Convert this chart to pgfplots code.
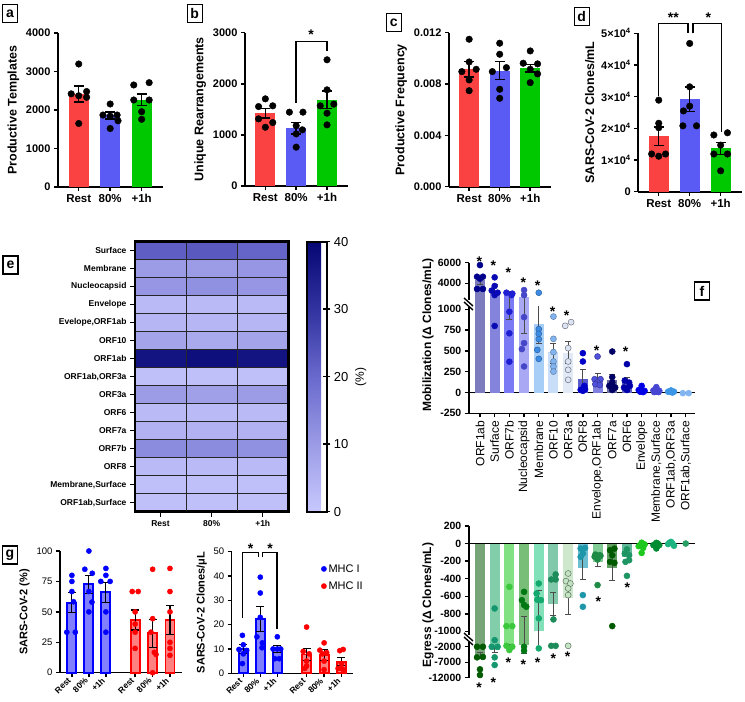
\documentclass[border=0pt]{standalone}
\usepackage{fontspec}
\setmainfont{Liberation Sans}
\usepackage{pgfplots}
\pgfplotsset{compat=1.18}
\newcommand{\fs}[1]{\fontsize{#1}{#1}\selectfont}

\definecolor{cred}{RGB}{250,66,66}
\definecolor{cblue}{RGB}{90,90,245}
\definecolor{cgreen}{RGB}{0,200,0}
% f top bars / dots
\definecolor{ta0}{RGB}{123,123,189}\definecolor{td0}{RGB}{0,0,140}
\definecolor{ta1}{RGB}{132,132,221}\definecolor{td1}{RGB}{10,10,180}
\definecolor{ta2}{RGB}{122,122,245}\definecolor{td2}{RGB}{30,30,210}
\definecolor{ta3}{RGB}{168,168,245}\definecolor{td3}{RGB}{70,70,200}
\definecolor{ta4}{RGB}{166,206,247}\definecolor{td4}{RGB}{60,140,230}
\definecolor{ta5}{RGB}{200,221,248}\definecolor{td5}{RGB}{130,180,240}
\definecolor{ta6}{RGB}{226,234,248}\definecolor{td6}{RGB}{220,228,246}
\definecolor{ta7}{RGB}{90,90,208}\definecolor{td7}{RGB}{0,0,200}
\definecolor{ta8}{RGB}{128,128,224}\definecolor{td8}{RGB}{80,80,220}
\definecolor{ta9}{RGB}{110,110,160}\definecolor{td9}{RGB}{0,0,100}
\definecolor{ta10}{RGB}{96,96,192}\definecolor{td10}{RGB}{0,0,170}
\definecolor{ta11}{RGB}{60,60,240}\definecolor{td11}{RGB}{0,0,230}
\definecolor{ta12}{RGB}{100,100,220}\definecolor{td12}{RGB}{70,70,210}
\definecolor{ta13}{RGB}{100,170,230}\definecolor{td13}{RGB}{60,150,230}
\definecolor{ta14}{RGB}{150,190,240}\definecolor{td14}{RGB}{130,180,240}
% f bottom bars / dots
\definecolor{ba0}{RGB}{120,165,120}\definecolor{bd0}{RGB}{0,90,0}
\definecolor{ba1}{RGB}{130,205,170}\definecolor{bd1}{RGB}{20,150,110}
\definecolor{ba2}{RGB}{130,225,130}\definecolor{bd2}{RGB}{60,200,60}
\definecolor{ba3}{RGB}{120,190,120}\definecolor{bd3}{RGB}{0,120,20}
\definecolor{ba4}{RGB}{130,225,185}\definecolor{bd4}{RGB}{20,170,110}
\definecolor{ba5}{RGB}{130,200,170}\definecolor{bd5}{RGB}{30,140,90}
\definecolor{ba6}{RGB}{205,232,205}\definecolor{bd6}{RGB}{195,228,195}
\definecolor{ba7}{RGB}{110,190,210}\definecolor{bd7}{RGB}{30,150,170}
\definecolor{ba8}{RGB}{130,205,150}\definecolor{bd8}{RGB}{30,140,70}
\definecolor{ba9}{RGB}{100,160,100}\definecolor{bd9}{RGB}{0,90,0}
\definecolor{ba10}{RGB}{100,185,155}\definecolor{bd10}{RGB}{30,150,100}
\definecolor{ba11}{RGB}{100,210,100}\definecolor{bd11}{RGB}{30,200,30}
\definecolor{ba12}{RGB}{60,170,80}\definecolor{bd12}{RGB}{0,140,50}
\definecolor{ba13}{RGB}{90,200,150}\definecolor{bd13}{RGB}{30,180,130}
\definecolor{ba14}{RGB}{100,180,140}\definecolor{bd14}{RGB}{40,160,100}
% g
\definecolor{gbf}{RGB}{128,128,255}\definecolor{gbd}{RGB}{0,0,255}
\definecolor{grf}{RGB}{255,128,128}\definecolor{grd}{RGB}{255,0,0}

\pgfplotsset{
  /pgf/number format/assume math mode=true,
  /pgf/number format/1000 sep={},
  scaled y ticks=false,
  colormap={heat}{rgb255=(200,200,255) rgb255=(155,155,230) rgb255=(105,105,205) rgb255=(50,50,160) rgb255=(5,5,115)},
  abcd/.style={scale only axis, anchor=south west, clip=false,
    axis x line*=bottom, axis y line*=left,
    axis line style={line width=1.8pt},
    tick style={black, line width=1.5pt}, major tick length=4pt, tick align=outside,
    xmin=-0.66, xmax=2.68, ymin=0, xtick={0,1,2}, xticklabels={Rest,80\%,+1h},
    xticklabel style={font=\bfseries\fs{11.5}},
    yticklabel style={font=\bfseries\fs{11}},
    ylabel style={font=\bfseries\fs{12.5}},
    width=104pt},
  fst/.style={scale only axis, anchor=south west,
    axis y line*=left, axis line style={line width=1.6pt},
    tick style={black, line width=1.4pt}, major tick length=4pt, tick align=outside,
    xmin=-0.76, xmax=14.65, width=226.5pt,
    yticklabel style={font=\bfseries\fs{10.5}}},
  zline/.style={extra y ticks={0}, extra y tick labels={},
    extra y tick style={ymajorgrids=true, major grid style={black, line width=1.5pt}, major tick length=0pt}},
  gst/.style={scale only axis, anchor=south west, clip=false,
    axis x line*=bottom, axis y line*=left, axis line style={line width=1.5pt},
    tick style={black, line width=1.3pt}, major tick length=4pt, tick align=outside,
    xtick={0,1,2,3.72,4.75,5.77}, xticklabels={Rest,80\%,+1h,Rest,80\%,+1h},
    xticklabel style={rotate=45, anchor=east, font=\bfseries\fs{8.5}},
    yticklabel style={font=\fs{9.5}}, ylabel style={font=\bfseries\fs{11}},
    width=121.7pt, height=121.7pt, ymin=0},
}

% bar with error (a-d)
\newcommand{\bb}[4]{\addplot[ybar, bar width=20pt, bar shift=0pt, fill=#4, draw=none,
  error bars/.cd, y dir=both, y explicit, error bar style={line width=1.4pt, black},
  error mark options={rotate=90, mark size=5pt, line width=1.4pt, black}]
  coordinates {(#1,#2) +- (0,#3)};}
% dots: #1 category position, #2 points with x given as jitter about it
\newcommand{\bd}[2]{\addplot[only marks, mark=*, mark size=3.3pt, black, x filter/.expression={x+#1}] coordinates {#2};}
% f bars and dots
\newcommand{\fb}[5]{\addplot[ybar, bar width=10pt, bar shift=0pt, fill=#5, draw=none,
  error bars/.cd, y dir=both, y explicit, error bar style={line width=0.8pt, black!70},
  error mark options={rotate=90, mark size=3pt, line width=0.8pt, black!70}]
  coordinates {(#1,#2) += (0,#3) -= (0,#4)};}
\newcommand{\fd}[4]{\addplot[only marks, mark=*, mark size=3pt, mark options={fill=#1, draw=#2, line width=0.5pt}, x filter/.expression={x+#3}] coordinates {#4};}
% g bars and dots
\newcommand{\gb}[5]{\addplot[ybar, bar width=9pt, bar shift=0pt, fill=#4, draw=#5, line width=1.8pt,
  error bars/.cd, y dir=both, y explicit, error bar style={line width=1.2pt, black},
  error mark options={rotate=90, mark size=4pt, line width=1.2pt, black}]
  coordinates {(#1,#2) +- (0,#3)};}
\newcommand{\gd}[3]{\addplot[only marks, mark=*, mark size=2.6pt, #1, x filter/.expression={x+#2}] coordinates {#3};}
\newcommand{\plabel}[3]{\node[draw, line width=1.3pt, inner sep=0pt, minimum width=15pt, minimum height=18pt, font=\bfseries\fs{14}] at (#1pt,-#2pt) {#3};}
\newcommand{\st}[2]{\node[font=\bfseries\fs{14}, inner sep=0pt] at (#1pt,-#2pt-3pt) {*};}

% ---- f top: bars that reach the upper segment
\newcommand{\ftopbarshigh}{%
\fb{0}{4320}{400}{400}{ta0}
\fb{1}{3350}{500}{500}{ta1}
\fb{2}{2930}{300}{2050}{ta2}
\fb{3}{2640}{300}{1926}{ta3}
}
\newcommand{\ftopbarsrest}{%
\fb{4}{826}{1814}{232}{ta4}
\fb{5}{493}{100}{148}{ta5}
\fb{6}{481}{132}{130}{ta6}
\fb{7}{161}{112}{100}{ta7}
\fb{8}{173}{60}{60}{ta8}
\fb{9}{153}{65}{60}{ta9}
\fb{10}{132}{50}{50}{ta10}
\fb{11}{30}{12}{12}{ta11}
\fb{12}{25}{10}{10}{ta12}
\fb{13}{15}{8}{8}{ta13}
\fb{14}{-8}{3}{3}{ta14}
}
\newcommand{\ftopdots}{%
\fd{td0}{td0}{0}{(0,5770) (-0.2,4640) (0.2,4640) (0,4450) (-0.2,3450) (0.2,3450)}
\fd{td1}{td1}{1}{(0,4580) (0,3740) (-0.2,3300) (0.2,3090) (0,2860) (0,800)}
\fd{td2}{td2}{2}{(-0.2,3090) (0.2,3000) (0.15,2860) (0,971) (0,712) (0,370)}
\fd{td3}{td3}{3}{(0,3350) (0,2860) (0,906) (0,594) (-0.15,522) (0,313)}
\fd{td4}{td4!70!black}{4}{(0,3090) (0,762) (0,706) (0,642) (-0.1,513) (0,405)}
\fd{td5}{td5!70!black}{5}{(0,913) (0,645) (0,486) (0,373) (0,313) (0,252)}
\fd{td6}{td6!50!black}{6}{(-0.2,802) (0.2,846) (0,534) (0,373) (0,273) (0,153)}
\fd{td7}{td7}{7}{(0,473) (0,373) (0.1,80) (-0.15,32) (0.15,40) (0,20)}
\fd{td8}{td8!70!black}{8}{(0,433) (-0.2,160) (0.2,160) (0,120) (-0.15,100) (0.15,90)}
\fd{td9}{td9}{9}{(0,493) (0,185) (0,120) (-0.2,80) (0.2,60) (0,30)}
\fd{td10}{td10}{10}{(0,341) (-0.15,144) (0.15,120) (-0.2,60) (0.2,80) (0,30)}
\fd{td11}{td11}{11}{(0,80) (-0.2,30) (0.2,20) (0,15) (-0.1,10) (0.1,5)}
\fd{td12}{td12}{12}{(0,65) (-0.2,25) (0.2,20) (0,10) (-0.15,5) (0.15,5)}
\fd{td13}{td13}{13}{(0,25) (-0.2,10) (0.2,10) (0,5) (0.1,0)}
\fd{td14}{td14}{14}{(-0.2,-8) (0.2,-8)}
}

% ---- f bottom: bars that reach the lower segment
\newcommand{\fbotbarslow}{%
\fb{0}{-4700}{1000}{1000}{ba0}
\fb{1}{-3080}{800}{800}{ba1}
\fb{2}{-1300}{100}{100}{ba2}
\fb{3}{-1300}{466}{2830}{ba3}
}
\newcommand{\fbotbarsrest}{%
\fb{4}{-993}{460}{500}{ba4}
\fb{5}{-690}{133}{125}{ba5}
\fb{6}{-625}{114}{178}{ba6}
\fb{7}{-277}{238}{129}{ba7}
\fb{8}{-209}{95}{50}{ba8}
\fb{9}{-284}{208}{133}{ba9}
\fb{10}{-152}{90}{50}{ba10}
\fb{11}{-30}{15}{15}{ba11}
\fb{12}{-20}{10}{10}{ba12}
}
\newcommand{\fbotdots}{%
\fd{bd0}{bd0}{0}{(-0.2,-2000) (0.2,-2000) (-0.2,-5420) (0.2,-5300) (0,-9290) (0,-11130)}
\fd{bd1}{bd1}{1}{(0,-739) (0,-1100) (-0.2,-2000) (0.2,-2000) (0,-5420) (0,-7900)}
\fd{bd2}{bd2}{2}{(0,-493) (-0.2,-940) (0.2,-940) (-0.2,-1700) (0.2,-2000) (0,-3070)}
\fd{bd3}{bd3}{3}{(0,-550) (-0.15,-644) (0.15,-720) (0,-700) (0,-2000) (0,-3290)}
\fd{bd4}{bd4}{4}{(0,-455) (-0.15,-568) (0.15,-644) (-0.1,-640) (0,-852) (0,-2520)}
\fd{bd5}{bd5}{5}{(-0.15,-409) (0.15,-352) (0.15,-409) (0,-864) (-0.15,-1700) (0.15,-1700)}
\fd{bd6}{bd6!50!black}{6}{(0,-341) (-0.15,-428) (0.15,-455) (0,-511) (0,-587) (0,-1700)}
\fd{bd7}{bd7}{7}{(-0.15,-57) (0.15,-50) (0,-114) (-0.15,-152) (0,-587) (0,-720)}
\fd{bd8}{bd8}{8}{(-0.15,-125) (0.15,-133) (0,-182) (0,-473) (-0.2,-150) (0.2,-140)}
\fd{bd9}{bd9}{9}{(-0.15,-76) (0.15,-58) (0,-133) (-0.15,-208) (0.15,-220) (0,-940)}
\fd{bd10}{bd10}{10}{(0,-66) (-0.15,-114) (0.15,-133) (-0.1,-208) (0.15,-190) (0,-368)}
\fd{bd11}{bd11}{11}{(0,10) (0.2,-10) (-0.2,-30) (0.1,-50) (0,-107) (-0.1,-20)}
\fd{bd12}{bd12}{12}{(0,8) (-0.2,-18) (0.2,-18) (0,-56) (0.1,0) (-0.1,-10)}
\fd{bd13}{bd13}{13}{(0,19) (-0.2,-6) (0.1,0) (0.2,-25) (-0.1,10)}
\fd{bd14}{bd14}{14}{(0,0)}
}

\begin{document}
\begin{tikzpicture}
\useasboundingbox (0,0) rectangle (745pt,-702pt);

% ---------- a
\begin{axis}[abcd, at={(58pt,-187pt)}, width=105pt, height=154pt, ymax=4000,
  ytick={0,1000,2000,3000,4000}, ylabel={Productive Templates}]
\bb{0}{2414}{210}{cred}
\bb{1}{1860}{90}{cblue}
\bb{2}{2266}{150}{cgreen}
\bd{0}{(0,3195) (-0.24,2420) (0.25,2480) (0,2370) (0.25,2330) (0,1650)}
\bd{1}{(0,2156) (-0.23,1870) (0.22,1870) (0,1840) (0.25,1720) (0,1520)}
\bd{2}{(-0.25,2650) (0.24,2710) (-0.25,2260) (0.24,2260) (0,1956) (0,1758)}
\end{axis}

% ---------- b
\begin{axis}[abcd, at={(245pt,-186pt)}, width=103pt, height=153.3pt, ymax=3000,
  ytick={0,1000,2000,3000}, ylabel={Unique Rearrangements}]
\bb{0}{1425}{92}{cred}
\bb{1}{1131}{110}{cblue}
\bb{2}{1686}{170}{cgreen}
\bd{0}{(0,1706) (-0.22,1555) (0.24,1569) (-0.22,1314) (0.24,1241) (0,1150)}
\bd{1}{(-0.22,1445) (0.22,1445) (0,1180) (0,1020) (0.2,1100) (0,760)}
\bd{2}{(0,2470) (0,1882) (-0.22,1569) (0.22,1602) (0,1425) (0,1196)}
\draw[line width=1.5pt] (axis cs:1,1630) |- (axis cs:2,2832) -- (axis cs:2,2648);
\end{axis}

% ---------- c
\begin{axis}[abcd, at={(449pt,-186.7pt)}, width=102pt, height=154pt, ymax=0.012,
  ytick={0,0.004,0.008,0.012},
  yticklabel style={/pgf/number format/.cd, fixed, fixed zerofill, precision=3},
  ylabel={Productive Frequency}]
\bb{0}{0.00915}{0.0006}{cred}
\bb{1}{0.00905}{0.0007}{cblue}
\bb{2}{0.00923}{0.0003}{cgreen}
\bd{0}{(0,0.01149) (0,0.00972) (-0.24,0.00897) (0.23,0.00915) (0,0.00832) (0,0.00748)}
\bd{1}{(0,0.01118) (0,0.01032) (0.22,0.00928) (-0.24,0.00897) (0,0.00759) (0,0.00689)}
\bd{2}{(0,0.01058) (-0.23,0.00962) (0.24,0.00957) (0,0.00915) (0.24,0.00879) (0,0.00811)}
\end{axis}

% ---------- d
\begin{axis}[abcd, at={(638.3pt,-191.7pt)}, width=103.4pt, height=158.4pt, ymax=50000,
  ytick={0,10000,20000,30000,40000,50000},
  yticklabels={0,1×10\textsuperscript{4},2×10\textsuperscript{4},3×10\textsuperscript{4},4×10\textsuperscript{4},5×10\textsuperscript{4}},
  ylabel={SARS-CoV-2 Clones/mL}]
\bb{0}{17570}{2900}{cred}
\bb{1}{29200}{3800}{cblue}
\bb{2}{13700}{1900}{cgreen}
\bd{0}{(0,28900) (0,21600) (0,20200) (-0.23,11900) (0,11200) (0.22,11900)}
\bd{1}{(0,46800) (0,33100) (0,27000) (-0.2,25500) (-0.22,20800) (0.22,20800)}
\bd{2}{(-0.22,17900) (0.22,18600) (0,14700) (-0.22,11900) (0.22,11900) (0,6600)}
\draw[line width=1.5pt] (axis cs:0,30190) |- (axis cs:0.95,53120) -- (axis cs:0.95,49970);
\draw[line width=1.5pt] (axis cs:1.1,49970) |- (axis cs:2.02,53120) -- (axis cs:2.02,18930);
\end{axis}

% ---------- e heatmap
\begin{axis}[scale only axis, anchor=south west, at={(135pt,-511.7pt)},
  width=153.3pt, height=270pt, enlargelimits=false,
  xmin=-0.5, xmax=2.5, ymin=-0.5, ymax=14.5, y dir=reverse,
  xtick={0,1,2}, xticklabels={Rest,80\%,+1h},
  ytick={0,...,14},
  yticklabels={Surface,Membrane,Nucleocapsid,Envelope,{Evelope,ORF1ab},ORF10,ORF1ab,{ORF1ab,ORF3a},ORF3a,ORF6,ORF7a,ORF7b,ORF8,{Membrane,Surface},{ORF1ab,Surface}},
  xtick pos=left, ytick pos=left, tick align=outside, major tick length=5pt,
  tick style={black, line width=1.5pt}, axis line style={line width=2.5pt},
  ticklabel style={font=\bfseries\fs{8.5}},
  axis on top, colormap name=heat, point meta min=0, point meta max=40,
  colorbar,
  colorbar style={at={(parent axis.north east)}, anchor=north west, xshift=10pt,
    scale only axis, width=20pt, height=270pt, ytick={0,10,20,30,40},
    yticklabel pos=right, ytick pos=right, tick align=center, major tick length=7pt,
    tick style={black, line width=1.5pt}, axis line style={line width=2pt},
    yticklabel style={font=\fs{13}}, ylabel={(\%)}, ylabel style={font=\fs{12}}}]
\addplot[matrix plot*, mesh/cols=3, point meta=explicit] table[meta=c] {
x y c
0 0 22
1 0 23
2 0 21
0 1 10
1 1 10
2 1 11
0 2 11
1 2 12
2 2 11
0 3 3
1 3 3
2 3 3
0 4 4
1 4 4
2 4 4
0 5 8
1 5 7
2 5 8
0 6 37
1 6 38
2 6 37
0 7 2
1 7 2
2 7 2
0 8 10
1 8 9
2 8 10
0 9 3
1 9 3
2 9 3
0 10 5
1 10 5
2 10 5
0 11 13
1 11 13
2 11 12
0 12 3
1 12 3
2 12 3
0 13 2
1 13 2
2 13 2
0 14 2
1 14 2
2 14 2
};
\end{axis}
% heatmap cell borders (box spans x 135-288.3 pt, y 241.7-511.7 pt, 18 pt per row)
\foreach \r in {1,...,14} {\draw[black!85, line width=0.9pt] (136pt,-241.7pt-\r*18pt) -- (287.3pt,-241.7pt-\r*18pt);}
\draw[black!85, line width=0.9pt] (186.1pt,-243pt) -- (186.1pt,-510.5pt) (237.2pt,-243pt) -- (237.2pt,-510.5pt);

% ---------- f top (broken axis)
\begin{axis}[fst, at={(468.8pt,-306pt)}, height=43.3pt, ymin=1800, ymax=6000,
  ytick={4000,6000}, axis x line=none]
\ftopbarshigh
\ftopdots
\end{axis}
\begin{axis}[fst, zline, at={(468.8pt,-413.3pt)}, height=107.3pt, ymin=-250, ymax=1040,
  ytick={-250,0,...,1000}, axis x line*=bottom, xtick={0,...,14},
  xticklabels={ORF1ab,Surface,ORF7b,Nucleocapsid,Membrane,ORF10,ORF3a,ORF8,{Envelope,ORF1ab},ORF7a,ORF6,Envelope,{Membrane,Surface},{ORF1ab,ORF3a},{ORF1ab,Surface}},
  xticklabel style={rotate=90, anchor=east, font=\fs{12}}]
\ftopbarshigh
\ftopbarsrest
\ftopdots
\end{axis}

% ---------- f bottom (broken axis)
\begin{axis}[fst, zline, at={(468.8pt,-644.1pt)}, height=118.1pt, ymin=-1145, ymax=200,
  ytick={-1000,-800,...,200}, axis x line=none]
\fbotbarslow
\fbotbarsrest
\fbotdots
\end{axis}
\begin{axis}[fst, at={(468.8pt,-677.7pt)}, height=33.6pt, ymin=-12000, ymax=-1145,
  ytick={-12000,-7000,-2000}, axis x line=none]
\fbotbarslow
\fbotdots
\end{axis}

% ---------- g left
\begin{axis}[gst, at={(60pt,-672.7pt)}, xmin=-0.7, xmax=6.46, ymax=100,
  ytick={0,25,50,75,100}, ylabel={SARS-CoV-2 (\%)}]
\gb{0}{57.6}{8}{gbf}{gbd}
\gb{1}{72.7}{7.5}{gbf}{gbd}
\gb{2}{66.1}{8.3}{gbf}{gbd}
\gb{3.72}{43.3}{8.2}{grf}{grd}
\gb{4.75}{32.4}{11.6}{grf}{grd}
\gb{5.77}{43.3}{11.8}{grf}{grd}
\gd{gbd}{0}{(0,80) (0,75) (0,66.7) (0.1,58.3) (-0.3,33.3) (0.2,33.3)}
\gd{gbd}{1}{(0,100) (-0.24,85) (0.2,81.7) (0,66.7) (0,50) (0.18,58)}
\gd{gbd}{2}{(0,85.7) (0,80) (-0.3,75) (0.25,75) (0,50) (0,33.3)}
\gd{grd}{3.72}{(-0.17,66.7) (0.18,66.7) (0,50) (0,40) (0,33.3) (0,20)}
\gd{grd}{4.75}{(0,85) (0,44.4) (-0.1,33.3) (0.1,16.7) (0.2,15) (0,0)}
\gd{grd}{5.77}{(0,85.7) (0,66.7) (0,50) (0,25) (0,20) (0,14.3)}
\end{axis}

% ---------- g right
\begin{axis}[gst, at={(231.7pt,-673.3pt)}, xmin=-0.68, xmax=6.47, ymax=50,
  ytick={0,10,20,30,40,50}, ylabel={SARS-CoV-2 Clones/μL},
  legend style={at={(0.71,0.93)}, anchor=north west, draw=none, fill=none,
    font=\fs{11}, row sep=4pt}, legend cell align=left]
\addlegendimage{only marks, mark=*, mark size=2.6pt, gbd}
\addlegendentry{MHC I}
\addlegendimage{only marks, mark=*, mark size=2.6pt, grd}
\addlegendentry{MHC II}
\gb{0}{9.9}{1.9}{gbf}{gbd}
\gb{1}{22.2}{5.1}{gbf}{gbd}
\gb{2}{9.9}{1.5}{gbf}{gbd}
\gb{3.72}{7.7}{2.4}{grf}{grd}
\gb{4.75}{7.5}{2.2}{grf}{grd}
\gb{5.77}{4.8}{1.6}{grf}{grd}
\gd{gbd}{0}{(-0.05,15.6) (0,11.7) (-0.25,9.8) (0.2,9.4) (0,8) (-0.05,4)}
\gd{gbd}{1}{(0,39.5) (0,33) (0,23) (-0.2,15) (0.12,12.5) (0.1,10.5)}
\gd{gbd}{2}{(0,15) (-0.25,10) (0,10) (0.2,10) (-0.15,6) (0.12,6)}
\gd{grd}{3.72}{(0,19) (-0.2,9) (0.15,8) (0,5) (0,3) (-0.1,2)}
\gd{grd}{4.75}{(0,12.5) (-0.25,9.5) (0.15,8.5) (-0.1,8) (0,5) (0,1.5)}
\gd{grd}{5.77}{(-0.1,9.3) (0.1,9.8) (0,4) (-0.2,2) (0,2) (0.1,1.5)}
\draw[line width=1.5pt] (axis cs:-0.06,22.6) |- (axis cs:0.88,49.6) -- (axis cs:0.88,47.6);
\draw[line width=1.5pt] (axis cs:1.12,47.6) |- (axis cs:1.99,49.6) -- (axis cs:1.99,18);
\end{axis}

% ---------- axis breaks in f
\fill[white] (462pt,-300pt) rectangle (474pt,-307pt);
\draw[line width=1.4pt] (464pt,-298pt) -- (473pt,-306pt);
\draw[line width=1.4pt] (464pt,-302pt) -- (473pt,-310pt);
\fill[white] (462pt,-635pt) rectangle (474pt,-642pt);
\draw[line width=1.4pt] (464pt,-633pt) -- (473pt,-641pt);
\draw[line width=1.4pt] (464pt,-637pt) -- (473pt,-645pt);

% ---------- f y labels
\node[rotate=90, font=\bfseries\fs{12}] at (428pt,-335pt) {Mobilization (Δ Clones/mL)};
\node[rotate=90, font=\bfseries\fs{12}] at (428pt,-605pt) {Egress (Δ Clones/mL)};

% ---------- significance stars
\st{311}{32}
\node[font=\bfseries\fs{14}, inner sep=0pt] at (673.3pt,-18pt) {**};
\st{708.3}{15}
\st{250.7}{545.7}
\st{270}{545.7}
\st{479.3}{258.3}\st{493.3}{262.7}\st{508.3}{269.3}\st{523.3}{280}\st{537.7}{282.7}
\st{552.7}{308.3}\st{566.7}{312.7}\st{596.7}{347.3}\st{625.7}{348.3}
\st{479}{685}\st{493.3}{680}\st{508.3}{660}\st{523.3}{661.7}\st{537.7}{660}
\st{553.3}{656}\st{567.7}{654}\st{598.3}{598.3}\st{627.3}{585}

% ---------- panel letters
\plabel{10}{13.8}{a}
\plabel{194.7}{13.7}{b}
\plabel{393.8}{22.5}{c}
\plabel{581.7}{16.7}{d}
\plabel{10.5}{265}{e}
\plabel{702}{291}{f}
\plabel{10}{555}{g}
\end{tikzpicture}
\end{document}
